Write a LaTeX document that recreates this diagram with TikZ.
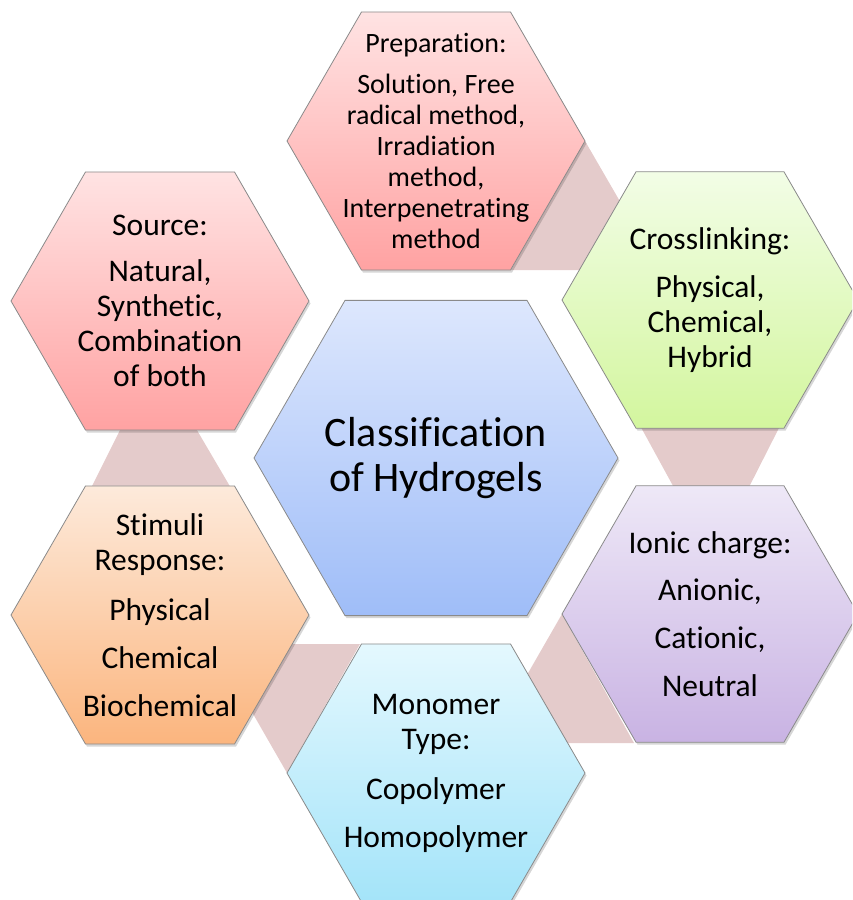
\documentclass[tikz,border=0pt]{standalone}
\usepackage{fontspec}
\setmainfont{Carlito}[Ligatures={NoCommon,NoRequired,NoContextual},Contextuals={NoAlternate}]
\definecolor{hexline}{HTML}{8A8A8A}
\definecolor{linkc}{HTML}{E4CBCB}
\definecolor{redT}{HTML}{FFE3E3}
\definecolor{redB}{HTML}{FFA2A2}
\definecolor{grnT}{HTML}{F2FDE6}
\definecolor{grnB}{HTML}{D3F69E}
\definecolor{purT}{HTML}{EEE8F7}
\definecolor{purB}{HTML}{C9B3E3}
\definecolor{cyaT}{HTML}{E4F8FE}
\definecolor{cyaB}{HTML}{A4E4F9}
\definecolor{orgT}{HTML}{FDEADB}
\definecolor{orgB}{HTML}{FBB57E}
\definecolor{bluT}{HTML}{DDE7FD}
\definecolor{bluB}{HTML}{9FBDF8}
\begin{document}
\begin{tikzpicture}[x=1pt,y=-1pt,
  hexp/.style n args={3}{insert path={(#1,#2) ++(0:#3) -- ++(120:#3) -- ++(180:#3) -- ++(240:#3) -- ++(300:#3) -- ++(0:#3) -- cycle}},
  hexbox/.style={draw=hexline, line width=0.8pt, line join=miter},
  hexshadow/.style={fill=black, opacity=0.16, draw=none},
  link/.style={fill=linkc, draw=none},
  lbl/.style={align=center, text=black, inner sep=0pt, font=\fontsize{31.5}{35}\selectfont},
]
\useasboundingbox (0,0) rectangle (852,900);
\clip (0,0) rectangle (852,900);

% centres
\coordinate (prep) at (436,141);
\coordinate (src) at (160,301);
\coordinate (cross) at (710,300);
\coordinate (ionic) at (710,614);
\coordinate (mono) at (436,773);
\coordinate (stim) at (160,615);
\coordinate (core) at (436,458);

% connector bands (behind hexagons)
\coordinate (pc1) at (585,141);
\coordinate (pc2) at (511,270);
\coordinate (pc3) at (640,270);
\coordinate (pc4) at (640,236);
\fill[link] (pc1) -- (pc2) -- (pc3) -- (pc4) -- cycle;

\coordinate (ci1) at (637,420);
\coordinate (ci2) at (783,420);
\coordinate (ci3) at (745,495);
\coordinate (ci4) at (678,495);
\fill[link] (ci1) -- (ci2) -- (ci3) -- (ci4) -- cycle;

\coordinate (im1) at (562,614);
\coordinate (im2) at (634,743);
\coordinate (im3) at (540,743);
\coordinate (im4) at (512,701);
\fill[link] (im1) -- (im2) -- (im3) -- (im4) -- cycle;

\coordinate (ms1) at (360,644);
\coordinate (ms2) at (287,773);
\coordinate (ms3) at (237,686);
\coordinate (ms4) at (250,644);
\fill[link] (ms1) -- (ms2) -- (ms3) -- (ms4) -- cycle;

\coordinate (ss1) at (125,420);
\coordinate (ss2) at (191,420);
\coordinate (ss3) at (238,500);
\coordinate (ss4) at (85,500);
\fill[link] (ss1) -- (ss2) -- (ss3) -- (ss4) -- cycle;

% shadows
\path[hexshadow, hexp={437.5}{143.5}{149}];
\path[hexshadow, hexp={161.5}{303.5}{149}];
\path[hexshadow, hexp={711.5}{302.5}{148}];
\path[hexshadow, hexp={711.5}{616.5}{148}];
\path[hexshadow, hexp={437.5}{775.5}{149}];
\path[hexshadow, hexp={161.5}{617.5}{149}];
\path[hexshadow, hexp={437.5}{460.5}{182}];

% hexagons
\path[hexbox, top color=redT, bottom color=redB, hexp={436}{141}{149}];
\path[hexbox, top color=redT, bottom color=redB, hexp={160}{301}{149}];
\path[hexbox, top color=grnT, bottom color=grnB, hexp={710}{300}{148}];
\path[hexbox, top color=purT, bottom color=purB, hexp={710}{614}{148}];
\path[hexbox, top color=cyaT, bottom color=cyaB, hexp={436}{773}{149}];
\path[hexbox, top color=orgT, bottom color=orgB, hexp={160}{615}{149}];
\path[hexbox, top color=bluT, bottom color=bluB, hexp={436}{458}{182}];

% texts
\node[lbl, font=\fontsize{28}{31}\selectfont] (prepText) at (prep)
  {Preparation:\\[10pt] Solution, Free\\ radical method,\\ Irradiation\\ method,\\ Interpenetrating\\ method};
\node[lbl] (srcText) at (src)
  {Source:\\[11pt] Natural,\\ Synthetic,\\ Combination\\ of both};
\node[lbl] (crossText) at (cross)
  {Crosslinking:\\[13pt] Physical,\\ Chemical,\\ Hybrid};
\node[lbl] (ionicText) at (ionic)
  {Ionic charge:\\[12pt] Anionic,\\[13pt] Cationic,\\[13pt] Neutral};
\node[lbl] (monoText) at (mono)
  {Monomer\\ Type:\\[15pt] Copolymer\\[13pt] Homopolymer};
\node[lbl] (stimText) at (stim)
  {Stimuli\\ Response:\\[15pt] Physical\\[13pt] Chemical\\[13pt] Biochemical};
\node[lbl, font=\fontsize{42}{45}\selectfont] (coreText) at (core)
  {Classification\\ of Hydrogels};
\end{tikzpicture}
\end{document}
